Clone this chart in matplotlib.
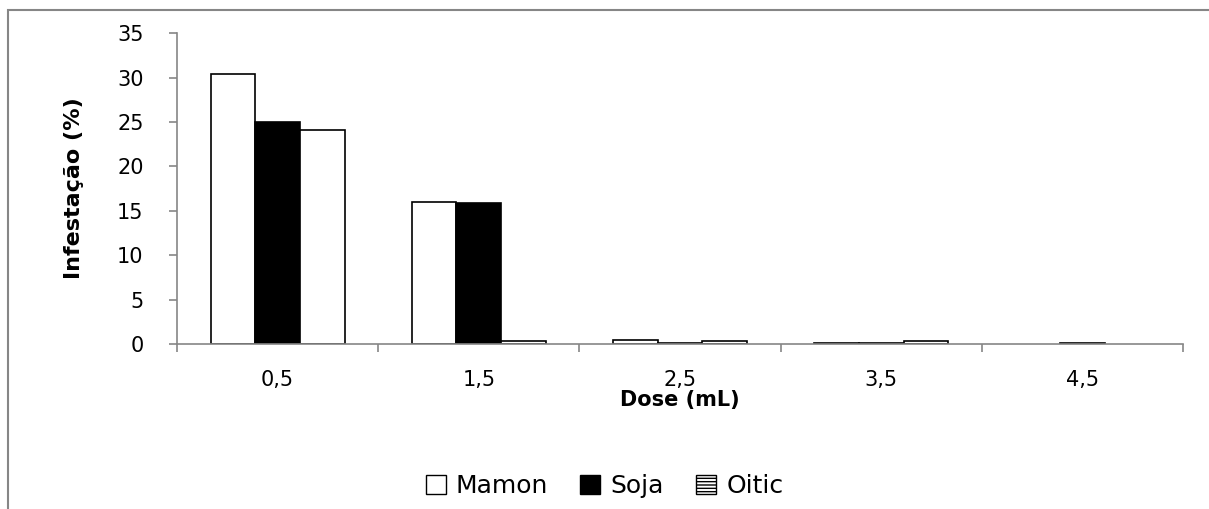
import matplotlib.pyplot as plt
import numpy as np
from matplotlib.patches import Patch, Rectangle

plt.rcParams['font.family'] = ['DejaVu Sans']

doses = ["0,5", "1,5", "2,5", "3,5", "4,5"]
mamon = [30.4, 16.0, 0.5, 0.1, 0.0]
soja = [25.0, 15.9, 0.1, 0.1, 0.1]
oitic = [24.1, 0.3, 0.3, 0.3, 0.0]

grey = "#868686"
x = np.arange(len(doses))
w = 1 / 4.5


def edges(vals):
    # empty bars get no outline
    return ["black" if v > 0 else "none" for v in vals]


fig = plt.figure(figsize=(12.09, 5.09), dpi=100)
ax = fig.add_axes([0.1464, 0.324, 0.9785 - 0.1464, 0.611])

ax.bar(x - w, mamon, w, color="white", edgecolor=edges(mamon), linewidth=1.2)
ax.bar(x, soja, w, color="black", edgecolor=edges(soja), linewidth=1.2)
ax.bar(x + w, oitic, w, color="white", edgecolor=edges(oitic), linewidth=1.2)

ax.set_xlim(-0.5, len(doses) - 0.5)
ax.set_ylim(0, 35)
ax.set_yticks(range(0, 36, 5))
ax.set_xticks(x)
ax.set_xticklabels(doses)
ax.set_xticks(np.arange(-0.5, len(doses)), minor=True)
ax.tick_params(axis="x", which="major", length=0, pad=19, labelsize=15)
ax.tick_params(axis="x", which="minor", length=6, color=grey, width=1.2)
ax.tick_params(axis="y", length=6, color=grey, width=1.2, pad=18, labelsize=15)

for s in ["top", "right"]:
    ax.spines[s].set_visible(False)
for s in ["left", "bottom"]:
    ax.spines[s].set_color(grey)
    ax.spines[s].set_linewidth(1.2)

ax.set_ylabel("Infestação (%)", fontsize=16, fontweight="bold", labelpad=24)
ax.set_xlabel("Dose (mL)", fontsize=15, fontweight="bold", labelpad=0)

handles = [
    Patch(facecolor="white", edgecolor="black", label="Mamon"),
    Patch(facecolor="black", edgecolor="black", label="Soja"),
    Patch(facecolor="white", edgecolor="black", hatch="-----", label="Oitic"),
]
fig.legend(handles=handles, loc="center", bbox_to_anchor=(0.5, 0.045), ncol=3,
           frameon=False, fontsize=18, handlelength=0.8, handleheight=0.8,
           handletextpad=0.4, columnspacing=1.3)

# outer chart frame
fig.patches.append(Rectangle((7.5 / 1209, -0.1), 1.2, (509 - 10) / 509 + 0.1,
                             transform=fig.transFigure, fill=False,
                             edgecolor=grey, linewidth=1.5, clip_on=False))

fig.savefig("out.png", dpi=100)
